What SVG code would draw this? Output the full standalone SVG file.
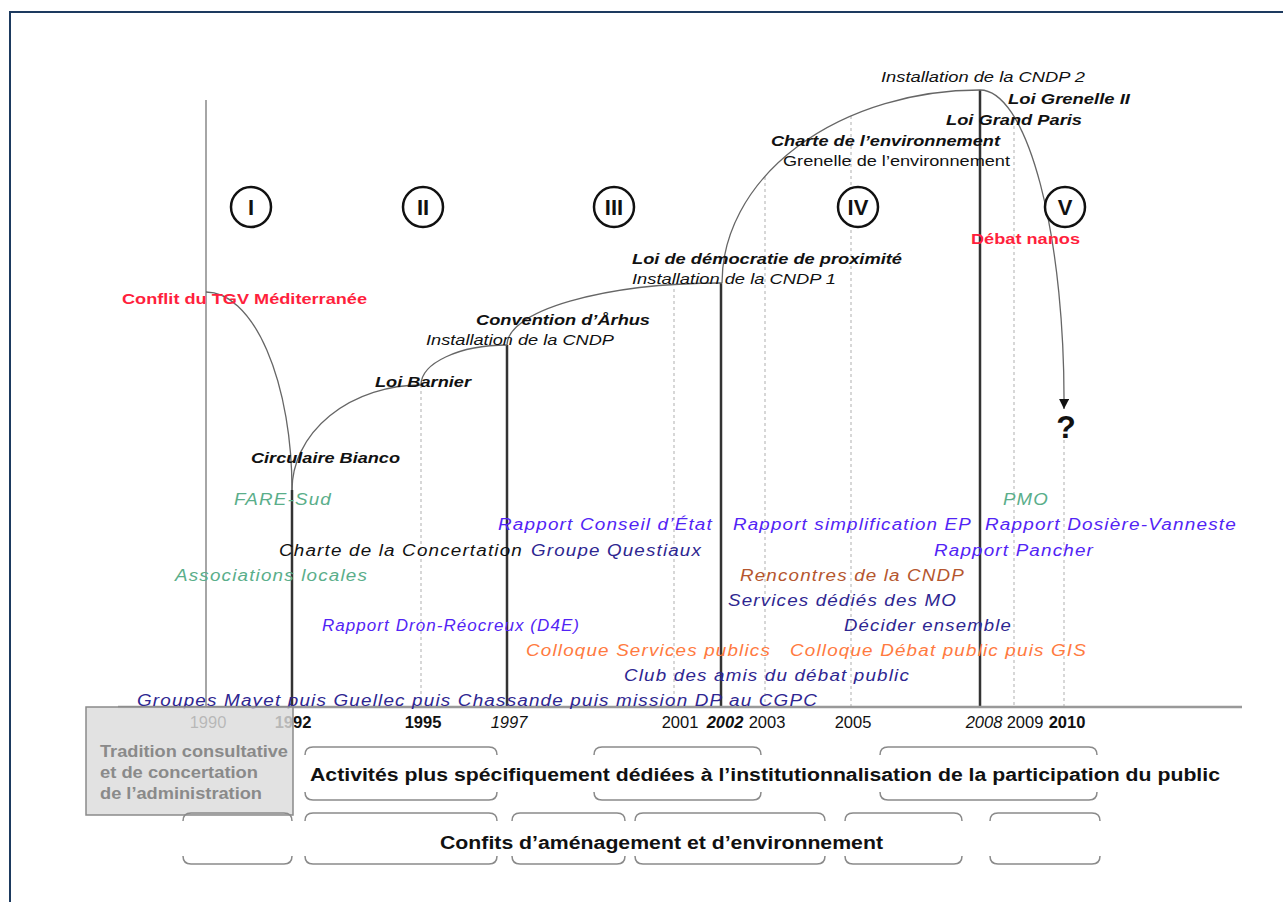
<svg xmlns="http://www.w3.org/2000/svg" width="1283" height="902" viewBox="0 0 1283 902">
<defs>
<style>
text{font-family:"Liberation Sans",Arial,sans-serif;font-size:15px}
.bi{font-weight:bold;font-style:italic;fill:#111}
.it{font-style:italic;fill:#111}
.red{font-weight:bold;fill:#ff1f3d}
.sp{font-size:16px;letter-spacing:1px}
.grn{font-style:italic;fill:#5aae8a}
.blu{font-style:italic;fill:#5224f5}
.dkb{font-style:italic;fill:#2e2691}
.org{font-style:italic;fill:#ff7a40}
.brn{font-style:italic;fill:#b5562e}
.yr{font-size:16.5px;fill:#111;text-anchor:middle}
.rn{font-weight:bold;font-size:22px;fill:#111;text-anchor:middle}
.big{font-weight:bold;font-size:18px;fill:#111}
.box{font-weight:bold;font-size:17px;fill:#8a8a8a}
.q{font-weight:bold;font-size:32px;fill:#111;text-anchor:middle}
.dot{stroke:#bdbdbd;stroke-width:1.2;stroke-dasharray:3 3;fill:none}
.thick{stroke:#333;stroke-width:2.5;fill:none}
.crv{stroke:#666;stroke-width:1.3;fill:none}
.brk{stroke:#8a8a8a;stroke-width:1.5;fill:none}
.circ{stroke:#111;stroke-width:2.5;fill:#fff}
</style>
<marker id="ah" viewBox="0 0 10 10" refX="10" refY="5" markerWidth="10" markerHeight="10" markerUnits="userSpaceOnUse" orient="auto">
<path d="M0,0 L10,5 L0,10 Z" fill="#111"/>
</marker>
</defs>
<rect x="10" y="12" width="1300" height="1000" fill="#fff" stroke="#1d3a5f" stroke-width="2"/>

<g id="timeline-lines">
<line x1="206" y1="100" x2="206" y2="707" stroke="#888" stroke-width="1.5"/>
<line class="dot" x1="421" y1="385" x2="421" y2="707"/>
<line class="dot" x1="674" y1="289" x2="674" y2="707"/>
<line class="dot" x1="765" y1="177" x2="765" y2="707"/>
<line class="dot" x1="851" y1="116" x2="851" y2="707"/>
<line class="dot" x1="1014" y1="120" x2="1014" y2="707"/>
<line class="dot" x1="1064" y1="440" x2="1064" y2="707"/>
<line class="thick" x1="292" y1="490" x2="292" y2="707"/>
<line class="thick" x1="507" y1="345" x2="507" y2="707"/>
<line class="thick" x1="721" y1="283" x2="721" y2="707"/>
<line class="thick" x1="980" y1="90" x2="980" y2="707"/>
<line x1="118" y1="707" x2="1242" y2="707" stroke="#999" stroke-width="2.5"/>
</g>

<g id="connectors">
<path class="crv" d="M206,292 A86,198 0 0 1 292,490"/>
<path class="crv" d="M292,490 A129,105 0 0 1 421,385"/>
<path class="crv" d="M421,385 A86,40 0 0 1 507,345"/>
<path class="crv" d="M507,345 A215,62 0 0 1 722,283"/>
<path class="crv" d="M722,283 A258,193 0 0 1 980,90"/>
<path class="crv" d="M980,90 A84,310 0 0 1 1064,409" marker-end="url(#ah)"/>
</g>

<g id="periods">
<g id="p1"><circle class="circ" cx="251" cy="207" r="20"/><text class="rn" x="251" y="215">I</text></g>
<g id="p2"><circle class="circ" cx="423" cy="207" r="20"/><text class="rn" x="423" y="215">II</text></g>
<g id="p3"><circle class="circ" cx="614" cy="207" r="20"/><text class="rn" x="614" y="215">III</text></g>
<g id="p4"><circle class="circ" cx="858" cy="207" r="20"/><text class="rn" x="858" y="215">IV</text></g>
<g id="p5"><circle class="circ" cx="1065" cy="207" r="20"/><text class="rn" x="1065" y="215">V</text></g>
</g>

<g id="events">
<text class="it" x="881" y="82" textLength="204" lengthAdjust="spacingAndGlyphs">Installation de la CNDP 2</text>
<text class="bi" x="1008" y="104" textLength="122" lengthAdjust="spacingAndGlyphs">Loi Grenelle II</text>
<text class="bi" x="946" y="125" textLength="136" lengthAdjust="spacingAndGlyphs">Loi Grand Paris</text>
<text class="bi" x="771" y="146" textLength="229" lengthAdjust="spacingAndGlyphs">Charte de l’environnement</text>
<text x="783" y="166" fill="#111" textLength="227" lengthAdjust="spacingAndGlyphs">Grenelle de l’environnement</text>
<text class="red" x="971" y="244" textLength="109" lengthAdjust="spacingAndGlyphs">Débat nanos</text>
<text class="bi" x="632" y="264" textLength="270" lengthAdjust="spacingAndGlyphs">Loi de démocratie de proximité</text>
<text class="it" x="632" y="284" textLength="204" lengthAdjust="spacingAndGlyphs">Installation de la CNDP 1</text>
<text class="red" x="122" y="304" textLength="245" lengthAdjust="spacingAndGlyphs">Conflit du TGV Méditerranée</text>
<text class="bi" x="476" y="325" textLength="174" lengthAdjust="spacingAndGlyphs">Convention d’Århus</text>
<text class="it" x="426" y="345" textLength="188" lengthAdjust="spacingAndGlyphs">Installation de la CNDP</text>
<text class="bi" x="375" y="387" textLength="96" lengthAdjust="spacingAndGlyphs">Loi Barnier</text>
<text class="bi" x="251" y="463" textLength="149" lengthAdjust="spacingAndGlyphs">Circulaire Bianco</text>
<text class="grn sp" x="234" y="505" textLength="98" lengthAdjust="spacingAndGlyphs">FARE-Sud</text>
<text class="grn sp" x="1003" y="505" textLength="46" lengthAdjust="spacingAndGlyphs">PMO</text>
<text class="blu sp" x="498" y="530" textLength="215" lengthAdjust="spacingAndGlyphs">Rapport Conseil d’État</text>
<text class="blu sp" x="733" y="530" textLength="239" lengthAdjust="spacingAndGlyphs">Rapport simplification EP</text>
<text class="blu sp" x="985" y="530" textLength="252" lengthAdjust="spacingAndGlyphs">Rapport Dosière-Vanneste</text>
<text class="it sp" x="279" y="556" textLength="244" lengthAdjust="spacingAndGlyphs">Charte de la Concertation</text>
<text class="dkb sp" x="531" y="556" textLength="171" lengthAdjust="spacingAndGlyphs">Groupe Questiaux</text>
<text class="blu sp" x="934" y="556" textLength="160" lengthAdjust="spacingAndGlyphs">Rapport Pancher</text>
<text class="grn sp" x="175" y="581" textLength="193" lengthAdjust="spacingAndGlyphs">Associations locales</text>
<text class="brn sp" x="740" y="581" textLength="225" lengthAdjust="spacingAndGlyphs">Rencontres de la CNDP</text>
<text class="dkb sp" x="728" y="606" textLength="229" lengthAdjust="spacingAndGlyphs">Services dédiés des MO</text>
<text class="blu sp" x="322" y="631" textLength="258" lengthAdjust="spacingAndGlyphs">Rapport Dron-Réocreux (D4E)</text>
<text class="dkb sp" x="844" y="631" textLength="168" lengthAdjust="spacingAndGlyphs">Décider ensemble</text>
<text class="org sp" x="526" y="656" textLength="245" lengthAdjust="spacingAndGlyphs">Colloque Services publics</text>
<text class="org sp" x="790" y="656" textLength="297" lengthAdjust="spacingAndGlyphs">Colloque Débat public puis GIS</text>
<text class="dkb sp" x="624" y="681" textLength="286" lengthAdjust="spacingAndGlyphs">Club des amis du débat public</text>
<text class="dkb sp" x="137" y="706" textLength="681" lengthAdjust="spacingAndGlyphs">Groupes Mayet puis Guellec puis Chassande puis mission DP au CGPC</text>
<text class="q" x="1066" y="438">?</text>
</g>

<g id="years">
<text class="yr" x="208" y="728">1990</text>
<text class="yr" x="293" y="728" font-weight="bold">1992</text>
<text class="yr" x="423" y="728" font-weight="bold">1995</text>
<text class="yr" x="509" y="728" font-style="italic">1997</text>
<text class="yr" x="680" y="728">2001</text>
<text class="yr" x="725" y="728" font-weight="bold" font-style="italic">2002</text>
<text class="yr" x="767" y="728">2003</text>
<text class="yr" x="853" y="728">2005</text>
<text class="yr" x="984" y="728" font-style="italic">2008</text>
<text class="yr" x="1025" y="728">2009</text>
<text class="yr" x="1067" y="728" font-weight="bold">2010</text>
</g>

<g id="tradition">
<rect x="86" y="707" width="207" height="108" fill="#dcdcdc" fill-opacity="0.82" stroke="#8a8a8a" stroke-width="1.5"/>
<text class="box" x="100" y="757" textLength="188" lengthAdjust="spacingAndGlyphs">Tradition consultative</text>
<text class="box" x="100" y="778" textLength="158" lengthAdjust="spacingAndGlyphs">et de concertation</text>
<text class="box" x="100" y="799" textLength="162" lengthAdjust="spacingAndGlyphs">de l’administration</text>
</g>

<g id="activites">
<path class="brk" d="M305,755 Q305,747 313,747 H489 Q497,747 497,755"/>
<path class="brk" d="M305,792 Q305,800 313,800 H489 Q497,800 497,792"/>
<path class="brk" d="M594,755 Q594,747 602,747 H753 Q761,747 761,755"/>
<path class="brk" d="M594,792 Q594,800 602,800 H753 Q761,800 761,792"/>
<path class="brk" d="M880,755 Q880,747 888,747 H1089 Q1097,747 1097,755"/>
<path class="brk" d="M880,792 Q880,800 888,800 H1089 Q1097,800 1097,792"/>
<text class="big" x="310" y="781" textLength="910" lengthAdjust="spacingAndGlyphs">Activités plus spécifiquement dédiées à l’institutionnalisation de la participation du public</text>
</g>

<g id="conflits">
<path class="brk" d="M183,821 Q183,813 191,813 H284 Q292,813 292,821"/>
<path class="brk" d="M183,856 Q183,864 191,864 H284 Q292,864 292,856"/>
<path class="brk" d="M305,821 Q305,813 313,813 H489 Q497,813 497,821"/>
<path class="brk" d="M305,856 Q305,864 313,864 H489 Q497,864 497,856"/>
<path class="brk" d="M512,821 Q512,813 520,813 H617 Q625,813 625,821"/>
<path class="brk" d="M512,856 Q512,864 520,864 H617 Q625,864 625,856"/>
<path class="brk" d="M635,821 Q635,813 643,813 H817 Q825,813 825,821"/>
<path class="brk" d="M635,856 Q635,864 643,864 H817 Q825,864 825,856"/>
<path class="brk" d="M845,821 Q845,813 853,813 H954 Q962,813 962,821"/>
<path class="brk" d="M845,856 Q845,864 853,864 H954 Q962,864 962,856"/>
<path class="brk" d="M990,821 Q990,813 998,813 H1092 Q1100,813 1100,821"/>
<path class="brk" d="M990,856 Q990,864 998,864 H1092 Q1100,864 1100,856"/>
<text class="big" x="440" y="849" textLength="443" lengthAdjust="spacingAndGlyphs">Confits d’aménagement et d’environnement</text>
</g>
</svg>
